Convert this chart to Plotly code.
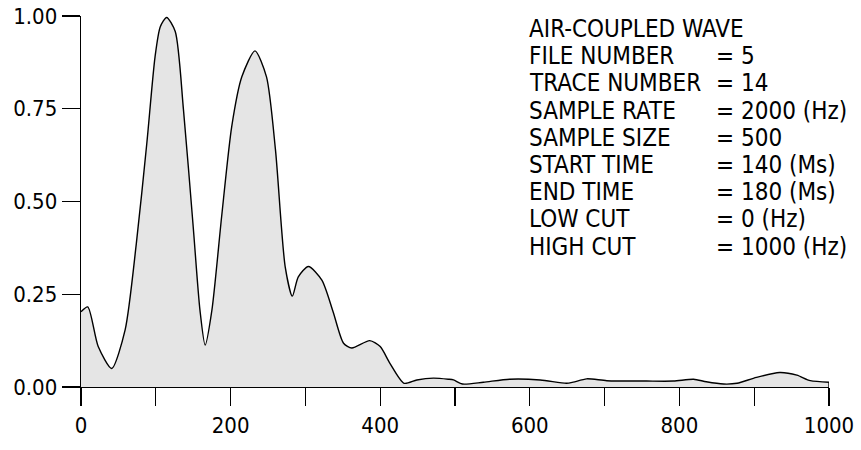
import plotly.graph_objects as go

# ---- data ----
freq = [0, 9, 23, 41, 59, 74, 88, 99, 106, 114.5, 126, 137, 150, 159, 166, 175, 188,
        201.5, 215, 232.6, 248, 260, 273, 282.5, 290.5, 304, 322, 337, 351, 362, 386,
        400, 413, 432, 449, 471, 491, 498, 510, 538, 573, 614, 649, 658, 676, 703, 756,
        792, 819, 836, 859, 877, 903, 934, 957, 975, 1000]
amp = [0.203, 0.216, 0.109, 0.050, 0.154, 0.387, 0.657, 0.890, 0.971, 0.996, 0.958,
       0.747, 0.432, 0.208, 0.113, 0.207, 0.459, 0.702, 0.836, 0.906, 0.836, 0.639,
       0.324, 0.245, 0.297, 0.325, 0.288, 0.203, 0.118, 0.105, 0.125, 0.109, 0.064,
       0.010, 0.019, 0.024, 0.021, 0.019, 0.008, 0.013, 0.021, 0.019, 0.010, 0.013,
       0.022, 0.017, 0.016, 0.016, 0.021, 0.014, 0.008, 0.010, 0.026, 0.039, 0.032,
       0.017, 0.013]

x_tick_vals = [0, 100, 200, 300, 400, 500, 600, 700, 800, 900, 1000]
x_tick_text = ["0", "", "200", "", "400", "", "600", "", "800", "", "1000"]
y_tick_vals = [0, 0.25, 0.5, 0.75, 1.0]
y_tick_text = ["0.00", "0.25", "0.50", "0.75", "1.00"]

info_labels = ["AIR-COUPLED WAVE", "FILE NUMBER", "TRACE NUMBER", "SAMPLE RATE",
               "SAMPLE SIZE", "START TIME", "END TIME", "LOW CUT", "HIGH CUT"]
info_values = ["", "= 5", "= 14", "= 2000 (Hz)", "= 500", "= 140 (Ms)",
               "= 180 (Ms)", "= 0 (Hz)", "= 1000 (Hz)"]

FONT = "DejaVu Sans Condensed, Liberation Sans, Arial, sans-serif"
FS_INFO = 24
FS_TICK = 22

W, H = 861, 450
L, T = 81, 16
R = W - 829
B = H - 387
pw, ph = W - L - R, H - T - B

fig = go.Figure()
fig.add_trace(go.Scatter(
    x=freq, y=amp, mode="lines", fill="tozeroy",
    fillcolor="#e5e5e5",
    line=dict(color="black", width=1.4, shape="spline", smoothing=0.7),
    hoverinfo="skip", showlegend=False, cliponaxis=False))
# closing edge of the filled polygon at the right end
fig.add_trace(go.Scatter(
    x=[freq[-1], freq[-1]], y=[0, amp[-1]], mode="lines",
    line=dict(color="black", width=1.4), hoverinfo="skip", showlegend=False,
    cliponaxis=False))

for i, (lab, val) in enumerate(zip(info_labels, info_values)):
    ypx = 29 + i * 27.2
    yp = 1 - (ypx - T) / ph
    fig.add_annotation(x=(528 - L) / pw, y=yp, xref="paper", yref="paper",
                       text=lab, showarrow=False, xanchor="left", yanchor="middle",
                       borderpad=0,
                       font=dict(family=FONT, size=FS_INFO, color="black"))
    if val:
        fig.add_annotation(x=(715 - L) / pw, y=yp, xref="paper", yref="paper",
                           text=val, showarrow=False, xanchor="left", yanchor="middle",
                           borderpad=0,
                           font=dict(family=FONT, size=FS_INFO, color="black"))

axis_common = dict(showgrid=False, zeroline=False, showline=True, linecolor="black",
                   linewidth=1.3, ticks="outside", ticklen=18, tickwidth=1.3,
                   tickcolor="black", ticklabeloverflow="allow",
                   tickfont=dict(family=FONT, size=FS_TICK, color="black"),
                   tickmode="array", fixedrange=True, automargin=False)

fig.update_xaxes(range=[0, 1000], tickvals=x_tick_vals, ticktext=x_tick_text,
                 **axis_common)
fig.update_yaxes(range=[0, 1], tickvals=y_tick_vals, ticktext=y_tick_text,
                 **axis_common)

fig.update_layout(width=W, height=H, margin=dict(l=L, r=R, t=T, b=B),
                  plot_bgcolor="white", paper_bgcolor="white",
                  font=dict(family=FONT, size=FS_TICK, color="black"))

fig.write_html("out.html", config={"displayModeBar": False, "staticPlot": True},
               post_script="document.body.style.margin='0';document.body.style.overflow='hidden';")
